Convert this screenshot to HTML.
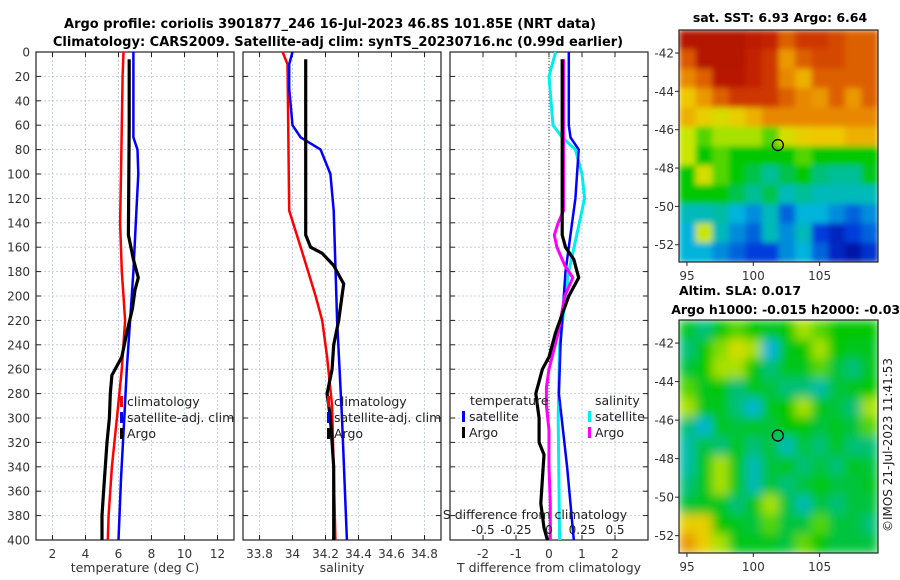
<!DOCTYPE html>
<html><head><meta charset="utf-8"><style>
body{margin:0;background:#fff;}
svg{display:block;font-family:"DejaVu Sans","Liberation Sans",sans-serif;}
</style></head><body>
<svg id="fig" width="900" height="580" xmlns="http://www.w3.org/2000/svg">
<rect width="900" height="580" fill="#fff"/>
<text x="330" y="28" text-anchor="middle" font-size="13" font-weight="bold">Argo profile: coriolis 3901877_246 16-Jul-2023 46.8S 101.85E (NRT data)</text>
<text x="338" y="46" text-anchor="middle" font-size="13" font-weight="bold">Climatology: CARS2009. Satellite-adj clim: synTS_20230716.nc (0.99d earlier)</text>
<g id="plots"></g>
<text x="780" y="22" text-anchor="middle" font-size="12.5" font-weight="bold">sat. SST: 6.93 Argo: 6.64</text>
<text x="740" y="295" text-anchor="middle" font-size="12.5" font-weight="bold">Altim. SLA: 0.017</text>
<text x="790" y="314" text-anchor="middle" font-size="12.5" font-weight="bold">Argo h1000: -0.015 h2000: -0.031</text>
<text transform="translate(892,445) rotate(-90)" text-anchor="middle" font-size="12" fill="#222">©IMOS 21-Jul-2023 11:41:53</text>
</svg>
<script>
// ---- profile data ----
const climTDepth=[0,20,60,100,140,180,200,220,260,300,340,380,400];
const climTVal=[6.3,6.25,6.2,6.15,6.1,6.2,6.3,6.4,6.2,5.9,5.6,5.4,5.35];
const satTDepth=[0,70,80,100,140,180,220,260,300,350,400];
const satTVal=[6.9,6.9,7.15,7.2,7.05,6.9,6.7,6.5,6.35,6.15,6.0];
const argoTDepth=[6,60,150,160,170,185,195,210,230,250,265,280,300,320,340,360,380,400];
const argoTVal=[6.65,6.65,6.6,6.75,6.9,7.2,7.0,6.85,6.5,6.2,5.6,5.5,5.45,5.3,5.2,5.1,5.0,5.0];
const climSDepth=[0,10,130,160,200,220,250,290,400];
const climSVal=[33.94,33.97,33.98,34.05,34.14,34.18,34.21,34.24,34.26];
const satSDepth=[0,10,30,60,70,80,100,130,220,300,400];
const satSVal=[34.0,33.98,33.98,34.0,34.05,34.17,34.23,34.25,34.27,34.3,34.33];
const argoSDepth=[6,130,150,160,165,175,185,190,200,220,240,260,280,300,340,380,400];
const argoSVal=[34.08,34.08,34.08,34.11,34.18,34.25,34.29,34.31,34.3,34.28,34.25,34.24,34.21,34.23,34.25,34.25,34.25];
const dTSatDepth=[0,60,70,80,120,180,240,280,340,400];
const dTSatVal=[0.6,0.6,0.65,0.9,0.8,0.5,0.35,0.3,0.55,0.75];
const dTArgoDepth=[6,150,160,170,185,200,230,250,260,270,280,300,320,330,350,370,390,400];
const dTArgoVal=[0.4,0.4,0.5,0.75,0.9,0.6,0.2,0.0,-0.2,-0.3,-0.4,-0.3,-0.3,-0.15,-0.2,-0.25,-0.15,-0.05];
const dSSatDepth=[0,20,60,70,80,100,120,180,240,300,400];
const dSSatVal=[0.05,0.0,0.03,0.1,0.2,0.25,0.27,0.15,0.08,0.07,0.08];
const dSArgoDepth=[6,130,140,150,160,175,185,200,230,260,275,290,310,340,370,400];
const dSArgoVal=[0.11,0.11,0.07,0.04,0.06,0.12,0.18,0.12,0.07,0.0,-0.02,-0.02,0.0,0.0,0.01,0.01];
const depthTicks=[0,20,40,60,80,100,120,140,160,180,200,220,240,260,280,300,320,340,360,380,400];
const tTicks=[2,4,6,8,10,12];
const sTicks=[33.8,34,34.2,34.4,34.6,34.8];
const dTicks=[-2,-1,0,1,2];
const sdTicks=[-0.5,-0.25,0,0.25,0.5];
const sdTickLabels=["-0.5","-0.25","0","0.25","0.5"];
// ---- map grids (0..1 colour scale) ----
const sstGrid=[
[0.96,0.96,0.96,0.96,0.94,0.93,0.85,0.9,0.9,0.88,0.85,0.85],
[0.86,0.96,0.96,0.96,0.93,0.9,0.78,0.85,0.88,0.88,0.85,0.85],
[0.8,0.85,0.95,0.95,0.93,0.9,0.8,0.75,0.85,0.85,0.85,0.85],
[0.72,0.78,0.85,0.9,0.9,0.9,0.85,0.8,0.78,0.85,0.78,0.85],
[0.75,0.7,0.66,0.7,0.75,0.8,0.8,0.8,0.8,0.8,0.8,0.8],
[0.62,0.55,0.6,0.6,0.6,0.55,0.65,0.7,0.72,0.72,0.75,0.75],
[0.62,0.5,0.55,0.5,0.5,0.5,0.5,0.55,0.5,0.5,0.5,0.5],
[0.5,0.65,0.55,0.5,0.45,0.4,0.45,0.5,0.42,0.4,0.4,0.48],
[0.5,0.5,0.5,0.45,0.4,0.45,0.35,0.4,0.35,0.35,0.35,0.35],
[0.35,0.35,0.38,0.3,0.25,0.35,0.2,0.3,0.3,0.25,0.2,0.25],
[0.3,0.62,0.35,0.25,0.2,0.35,0.25,0.35,0.15,0.1,0.15,0.2],
[0.3,0.3,0.25,0.2,0.15,0.15,0.25,0.3,0.2,0.1,0.05,0.12]];
const slaGrid=[
[0.48,0.42,0.5,0.55,0.5,0.48,0.5,0.6,0.55,0.5,0.5,0.5],
[0.42,0.5,0.58,0.65,0.6,0.3,0.48,0.5,0.6,0.5,0.48,0.48],
[0.46,0.5,0.6,0.6,0.5,0.42,0.48,0.48,0.55,0.46,0.42,0.48],
[0.55,0.48,0.5,0.42,0.48,0.46,0.42,0.42,0.38,0.46,0.48,0.5],
[0.6,0.48,0.48,0.42,0.32,0.48,0.5,0.6,0.48,0.46,0.42,0.6],
[0.42,0.32,0.48,0.46,0.48,0.46,0.5,0.5,0.46,0.48,0.46,0.55],
[0.38,0.46,0.42,0.48,0.42,0.46,0.36,0.46,0.42,0.48,0.42,0.42],
[0.38,0.48,0.6,0.48,0.36,0.46,0.48,0.42,0.46,0.42,0.48,0.46],
[0.42,0.48,0.6,0.48,0.36,0.46,0.42,0.46,0.5,0.46,0.46,0.48],
[0.46,0.48,0.48,0.42,0.48,0.6,0.46,0.36,0.46,0.42,0.46,0.46],
[0.7,0.7,0.5,0.48,0.46,0.55,0.46,0.46,0.55,0.46,0.46,0.42],
[0.78,0.7,0.6,0.48,0.48,0.48,0.46,0.56,0.5,0.46,0.46,0.46]];
const latTicks=[-42,-44,-46,-48,-50,-52];
const lonTicks=[95,100,105];
const argoLon=101.85, argoLat=-46.8;

const NS="http://www.w3.org/2000/svg";
const root=document.getElementById('plots');
function mk(tag,at,parent){const e=document.createElementNS(NS,tag);for(const k in at)e.setAttribute(k,at[k]);(parent||root).appendChild(e);return e;}
const PT=52,PB=540;
const yD=d=>PT+(d/400)*(PB-PT);
const panels=[
 {x0:36,lo:1,hi:13,ticks:tTicks,labels:tTicks.map(String),title:"temperature (deg C)",name:"temperature"},
 {x0:243,lo:33.7,hi:34.9,ticks:sTicks,labels:sTicks.map(String),title:"salinity",name:"salinity"},
 {x0:450,lo:-3,hi:3,ticks:dTicks,labels:dTicks.map(String),title:"T difference from climatology",name:"difference"}];
const W=198;
panels.forEach((p,i)=>{
 p.x=v=>p.x0+(v-p.lo)/(p.hi-p.lo)*W;
 const g=mk('g',{});
 
 
 depthTicks.forEach(d=>{
  mk('line',{x1:p.x0,x2:p.x0+W,y1:yD(d),y2:yD(d),stroke:'#b8c4e0','stroke-width':0.8,'stroke-dasharray':'2,2'},g);
  mk('line',{x1:p.x0,x2:p.x0+5,y1:yD(d),y2:yD(d),stroke:'#222'},g);
  mk('line',{x1:p.x0+W-5,x2:p.x0+W,y1:yD(d),y2:yD(d),stroke:'#222'},g);
 });
 p.ticks.forEach((t,j)=>{
  const xx=p.x(t);
  mk('line',{x1:xx,x2:xx,y1:PT,y2:PB,stroke:'#b8c4e0','stroke-width':0.8,'stroke-dasharray':'2,2'},g);
  mk('line',{x1:xx,x2:xx,y1:PB,y2:PB-5,stroke:'#222'},g);
  mk('line',{x1:xx,x2:xx,y1:PT,y2:PT+5,stroke:'#222'},g);
  const tx=mk('text',{x:xx,y:PB+18,'text-anchor':'middle','font-size':12,fill:'#333'},g);tx.textContent=p.labels[j];
  
  
 });
 const fr=mk('rect',{x:p.x0,y:PT,width:W,height:PB-PT,fill:'none',stroke:'#222','stroke-width':1.2},g);
 
 
 const at=mk('text',{x:p.x0+W/2,y:572,'text-anchor':'middle','font-size':12.5,fill:'#333'},g);at.textContent=p.title;
 
 
});
depthTicks.forEach(d=>{
 const t=mk('text',{x:30,y:yD(d)+4.5,'text-anchor':'end','font-size':12,fill:'#333'});t.textContent=d;
 
 
});
const zl=mk('line',{x1:panels[2].x(0),x2:panels[2].x(0),y1:PT,y2:PB,stroke:'#444','stroke-width':1,'stroke-dasharray':'1,2'});


function series(xf,depths,vals,color,w,name){
 const pts=depths.map((d,i)=>xf(vals[i]).toFixed(1)+','+yD(d).toFixed(1)).join(' ');
 const pl=mk('polyline',{points:pts,fill:'none',stroke:color,'stroke-width':w,'stroke-linejoin':'round'});
 
 
}
const xSD=v=>panels[2].x0+W/2+v*132;
series(panels[0].x,climTDepth,climTVal,'#f00',2.5,'temperature-climatology-line');
series(panels[0].x,satTDepth,satTVal,'#00f',2.5,'temperature-satellite-line');
series(panels[0].x,argoTDepth,argoTVal,'#000',3.2,'temperature-argo-line');
series(panels[1].x,climSDepth,climSVal,'#f00',2.5,'salinity-climatology-line');
series(panels[1].x,satSDepth,satSVal,'#00f',2.5,'salinity-satellite-line');
series(panels[1].x,argoSDepth,argoSVal,'#000',3.2,'salinity-argo-line');
series(xSD,dSSatDepth,dSSatVal,'#0ee',3,'salinity-diff-satellite-line');
series(panels[2].x,dTSatDepth,dTSatVal,'#00f',2.5,'temperature-diff-satellite-line');
series(xSD,dSArgoDepth,dSArgoVal,'#f0f',3,'salinity-diff-argo-line');
series(panels[2].x,dTArgoDepth,dTArgoVal,'#000',3.2,'temperature-diff-argo-line');
function legend(x,y,color,label,name){
 const g=mk('g',{});
 
 
 mk('rect',{x:x,y:y-10,width:3,height:11,fill:color},g);
 const t=mk('text',{x:x+7,y:y,'font-size':12.5,fill:'#222'},g);t.textContent=label;
}
[[120,'#f00','climatology'],[120,'#00f','satellite-adj. clim'],[120,'#000','Argo']].forEach((e,i)=>legend(e[0],406+i*16,e[1],e[2],'temperature-legend-entry'));
[[327,'#f00','climatology'],[327,'#00f','satellite-adj. clim'],[327,'#000','Argo']].forEach((e,i)=>legend(e[0],406+i*16,e[1],e[2],'salinity-legend-entry'));
let t1=mk('text',{x:470,y:405,'font-size':12.5,fill:'#222'});t1.textContent='temperature';


let t2=mk('text',{x:595,y:405,'font-size':12.5,fill:'#222'});t2.textContent='salinity';


legend(462,421,'#00f','satellite','diff-legend-temp-satellite');
legend(462,437,'#000','Argo','diff-legend-temp-argo');
legend(588,421,'#0ee','satellite','diff-legend-sal-satellite');
legend(588,437,'#f0f','Argo','diff-legend-sal-argo');
let st=mk('text',{x:535,y:519,'text-anchor':'middle','font-size':12.5,fill:'#222'});st.textContent='S difference from climatology';


sdTicks.forEach((v,i)=>{
 const t=mk('text',{x:xSD(v),y:534,'text-anchor':'middle','font-size':12,fill:'#222'});t.textContent=sdTickLabels[i];
 
 
});
// ---- maps ----
const cmapStops=[[0,[0,0,140]],[0.15,[0,60,220]],[0.3,[0,180,220]],[0.4,[0,190,150]],[0.5,[0,200,0]],[0.62,[200,230,0]],[0.72,[240,200,0]],[0.82,[230,120,0]],[0.92,[200,40,0]],[1,[160,0,0]]];
function cmap(v){
 for(let i=1;i<cmapStops.length;i++){
  const [a,ca]=cmapStops[i-1],[b,cb]=cmapStops[i];
  if(v<=b){const t=(v-a)/(b-a);return `rgb(${ca.map((c,k)=>Math.round(c+(cb[k]-c)*t)).join(',')})`;}
 }
 return 'rgb(160,0,0)';
}
const defs=mk('defs',{});
function drawMap(grid,top,bottom,name,id,blur){
 const L=679,R=878;
 const lonL=94.4,lonR=109.4,latT=-40.8,latB=-52.9;
 const xm=v=>L+(v-lonL)/(lonR-lonL)*(R-L);
 const ym=v=>top+(v-latT)/(latB-latT)*(bottom-top);
 const f=mk('filter',{id:'f'+id,x:0,y:0,width:1,height:1},defs);
 mk('feGaussianBlur',{stdDeviation:blur,edgeMode:'duplicate'},f);
 const cp=mk('clipPath',{id:'c'+id},defs);
 mk('rect',{x:L,y:top,width:R-L,height:bottom-top},cp);
 const g=mk('g',{'clip-path':`url(#c${id})`});
 
 
 const inner=mk('g',{filter:`url(#f${id})`},g);
 const rows=grid.length,cols=grid[0].length;
 const cw=(R-L)/cols,ch=(bottom-top)/rows;
 grid.forEach((row,r)=>row.forEach((v,c)=>{
  const cell=mk('rect',{x:L+c*cw,y:top+r*ch,width:cw+0.6,height:ch+0.6,fill:cmap(v)},inner);
  
  
 }));
 const fr=mk('rect',{x:L,y:top,width:R-L,height:bottom-top,fill:'none',stroke:'#222','stroke-width':1.2});
 
 
 latTicks.forEach(v=>{
  mk('line',{x1:L,x2:L-4,y1:ym(v),y2:ym(v),stroke:'#222'});
  const t=mk('text',{x:L-5,y:ym(v)+4.5,'text-anchor':'end','font-size':12,fill:'#333'});t.textContent=v;
  
  
 });
 lonTicks.forEach(v=>{
  mk('line',{x1:xm(v),x2:xm(v),y1:bottom,y2:bottom+4,stroke:'#222'});
  const t=mk('text',{x:xm(v),y:bottom+18,'text-anchor':'middle','font-size':12,fill:'#333'});t.textContent=v;
  
  
 });
 const c=mk('circle',{cx:xm(argoLon),cy:ym(argoLat),r:5.5,fill:'none',stroke:'#000','stroke-width':1.3});
 
 
}
drawMap(sstGrid,30,262,'sst-map','a',3);
drawMap(slaGrid,320,553,'sla-map','b',5);
</script>
</body></html>
